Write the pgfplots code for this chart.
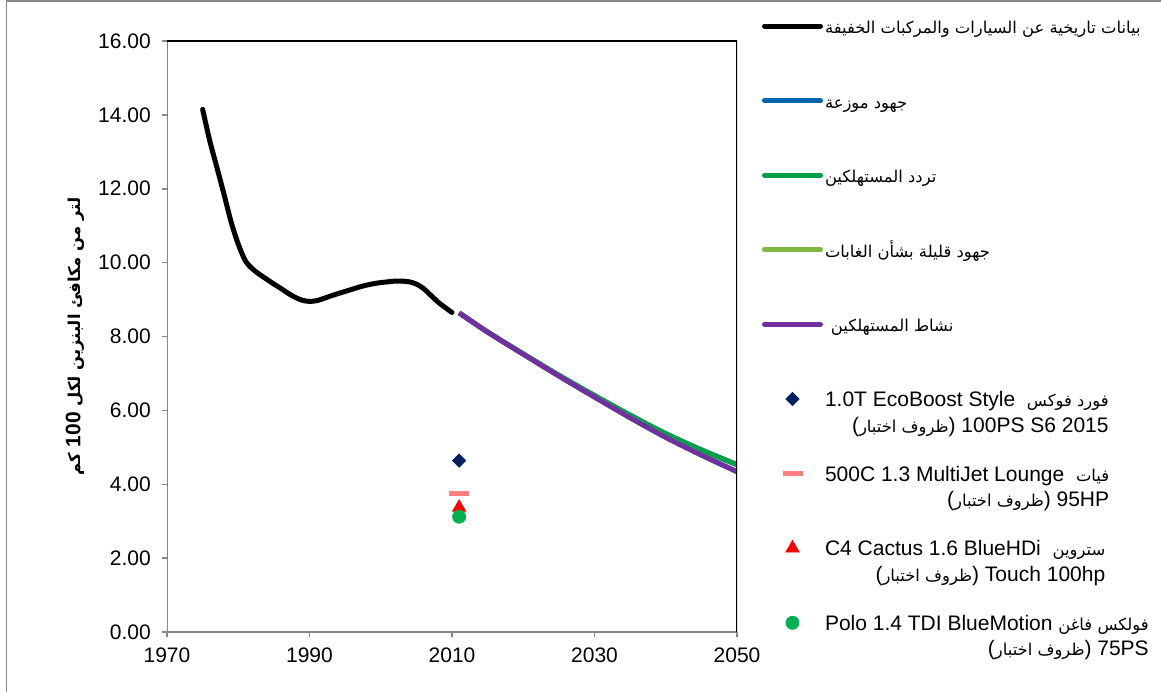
\documentclass[border=0pt]{standalone}
\usepackage{fontspec}
\setmainfont{Liberation Sans}
\newfontfamily\arabicfont[Script=Arabic,Scale=0.78]{DejaVu Sans}
\TeXXeTstate=1
\usepackage{pgfplots}
\pgfplotsset{compat=1.18}
\definecolor{axgray}{RGB}{134,134,134}
\definecolor{sblue}{RGB}{0,100,170}
\definecolor{sgreen}{RGB}{0,160,72}
\definecolor{slgreen}{RGB}{125,185,65}
\definecolor{spurple}{RGB}{112,48,160}
\definecolor{snavy}{RGB}{0,32,96}
\definecolor{spink}{RGB}{255,128,128}
\definecolor{sred}{RGB}{255,0,0}
\definecolor{scirc}{RGB}{0,176,80}
\newcommand{\AR}[1]{{\arabicfont\beginR #1\endR}}
\pgfplotsset{
  lineleg/.style={legend image code/.code={\draw[##1, line cap=round] (0pt,0pt) -- (28pt,0pt);}},
  markleg/.style={legend image code/.code={\draw[##1] plot coordinates {(14pt,0pt)};}},
}
\begin{document}
\begin{tikzpicture}[font=\fontsize{10.5}{12.8}\selectfont]
\begin{axis}[
  scale only axis, width=285pt, height=295.5pt,
  at={(83.5pt,29.5pt)}, anchor=south west,
  xmin=1970, xmax=2050, ymin=0, ymax=16,
  xtick={1970,1990,2010,2030,2050},
  ytick={0,2,4,6,8,10,12,14,16},
  /pgf/number format/assume math mode=true,
  xticklabel style={/pgf/number format/1000 sep={}, yshift=-2pt},
  yticklabel style={/pgf/number format/fixed, /pgf/number format/fixed zerofill, /pgf/number format/precision=2, xshift=-2pt},
  axis line style={draw=none},
  tick align=outside, tick pos=left,
  major tick length=2.6pt,
  every tick/.style={axgray, line width=0.75pt},
  ylabel={\arabicfont\bfseries\beginR لتر من مكافئ البنزين لكل \beginL{\normalfont\bfseries 100}\endL{} كم\endR},
  ylabel style={at={(axis description cs:-0.1614,0.5)}, anchor=center},
  legend cell align=left,
  legend style={draw=none, fill=none, inner sep=0pt, outer sep=0pt,
    at={(1.04386,1.08849)}, anchor=north west,
    row sep=0pt, column sep=1pt,
    nodes={inner sep=0pt, outer sep=0pt, text height=22.4pt, text depth=14.9pt}},
  lineleg,
]
\addplot[black, line width=2.5pt, smooth, line cap=round] coordinates {
(1975,14.15) (1976,13.3) (1977,12.58) (1978,11.85) (1979,11.1) (1980,10.5)
(1981,10.05) (1982,9.83) (1983,9.68) (1984,9.55) (1985,9.42) (1986,9.3)
(1987,9.17) (1988,9.06) (1989,8.98) (1990,8.95) (1991,8.97) (1992,9.03)
(1993,9.1) (1994,9.16) (1995,9.22) (1996,9.28) (1997,9.34) (1998,9.39)
(1999,9.43) (2000,9.46) (2001,9.48) (2002,9.5) (2003,9.5) (2004,9.48)
(2005,9.42) (2006,9.3) (2007,9.12) (2008,8.94) (2009,8.79) (2010,8.65)};
\addlegendentry{\AR{بيانات تاريخية عن السيارات والمركبات الخفيفة}}
\addplot[sblue, line width=2.5pt, smooth] coordinates {
(2011,8.64) (2015,8.12) (2020,7.53) (2025,6.95) (2030,6.4) (2035,5.87) (2040,5.37) (2045,4.93) (2050,4.53)};
\addlegendentry{\AR{جهود موزعة}}
\addplot[sgreen, line width=2.5pt, smooth] coordinates {
(2011,8.64) (2015,8.12) (2020,7.53) (2025,6.95) (2030,6.4) (2035,5.87) (2040,5.37) (2045,4.93) (2050,4.53)};
\addlegendentry{\AR{تردد المستهلكين}}
\addplot[slgreen, line width=2.5pt, smooth] coordinates {
(2011,8.64) (2015,8.12) (2020,7.52) (2025,6.93) (2030,6.36) (2035,5.8) (2040,5.27) (2045,4.79) (2050,4.34)};
\addlegendentry{\AR{جهود قليلة بشأن الغابات}}
\addplot[spurple, line width=2.5pt, smooth] coordinates {
(2011,8.64) (2015,8.12) (2020,7.52) (2025,6.93) (2030,6.36) (2035,5.8) (2040,5.27) (2045,4.79) (2050,4.34)};
\addlegendentry{\ \AR{نشاط المستهلكين}}
\addplot[only marks, mark=square*, mark size=2.3pt, mark options={rotate=45, fill=snavy, draw=snavy}, markleg] coordinates {(2011,4.64)};
\addlegendentry{\begin{tabular}[t]{@{}r@{}}1.0T EcoBoost Style\ \ \AR{فورد فوكس}\\(\AR{ظروف اختبار}) 100PS S6 2015\end{tabular}}
\addplot[only marks, mark=-, mark size=5pt, mark options={draw=spink, line width=2.5pt}, markleg] coordinates {(2011,3.74)};
\addlegendentry{\begin{tabular}[t]{@{}r@{}}500C 1.3 MultiJet Lounge\ \ \AR{فيات}\\(\AR{ظروف اختبار}) 95HP\end{tabular}}
\addplot[only marks, mark=triangle*, mark size=3.8pt, mark options={fill=sred, draw=sred}, markleg] coordinates {(2011,3.37)};
\addlegendentry{\begin{tabular}[t]{@{}r@{}}C4 Cactus 1.6 BlueHDi\ \ \AR{ستروين}\\(\AR{ظروف اختبار}) Touch 100hp\end{tabular}}
\addplot[only marks, mark=*, mark size=3.25pt, mark options={fill=scirc, draw=scirc}, markleg] coordinates {(2011,3.12)};
\addlegendentry{\begin{tabular}[t]{@{}r@{}}Polo 1.4 TDI BlueMotion \AR{فولكس فاغن}\\(\AR{ظروف اختبار}) 75PS\end{tabular}}
\draw[axgray, line width=0.75pt] (rel axis cs:0,1) -- (rel axis cs:0,0) -- (rel axis cs:1,0);
\draw[black, line width=1pt] (rel axis cs:0,1) -- (rel axis cs:1,1) -- (rel axis cs:1,0);
\end{axis}
\draw[axgray, line width=0.75pt] (3.25pt,-2pt) -- (3.25pt,345.1pt) -- (584pt,345.1pt);
\pgfresetboundingbox
\path[use as bounding box] (0pt,0pt) rectangle (580.5pt,345.5pt);
\end{tikzpicture}
\end{document}
